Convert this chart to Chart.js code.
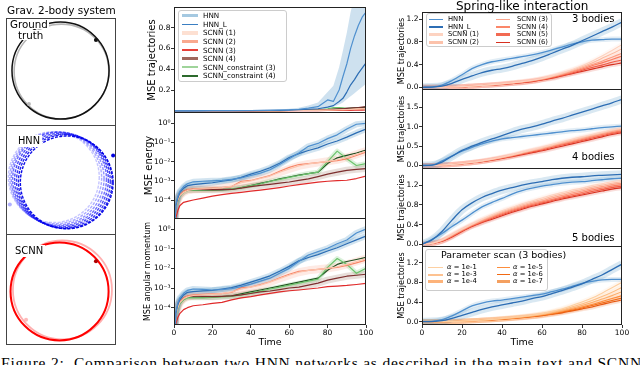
<!DOCTYPE html>
<html>
<head>
<meta charset="utf-8">
<script src="https://cdn.jsdelivr.net/npm/chart.js@4.4.1/dist/chart.umd.min.js"></script>
<style>
  html, body { margin: 0; padding: 0; background: #fff; }
  body { width: 640px; height: 365px; overflow: hidden; position: relative; font-family: "DejaVu Sans", sans-serif; }
  canvas { position: absolute; }
  .t { position: absolute; white-space: nowrap; line-height: 1; color: #000; }
  .box { position: absolute; border: 1px solid #ccc; border-radius: 3px; background: rgba(255,255,255,0.85); box-sizing: border-box; }
  .sw { position: absolute; }
</style>
</head>
<body>
<script>
// ---------- time grids / ticks ----------
const tTraj = [0, 10, 20, 30, 40, 50, 55, 60, 65, 70, 75, 80, 83, 86, 88, 90, 92, 94, 96, 98, 100];
const tLog = [0, 1, 2, 3, 5, 7, 10, 15, 20, 25, 30, 35, 40, 45, 50, 55, 60, 65, 70, 75, 80, 85, 90, 95, 100];
const tSpring = [0, 5, 10, 15, 20, 25, 30, 35, 40, 45, 50, 55, 60, 65, 70, 75, 80, 85, 90, 95, 100];
const timeTicks = [0, 20, 40, 60, 80, 100];
const trajTicks = [0.2, 0.4, 0.6, 0.8];
const logTicks = [1e-4, 1e-3, 1e-2, 1e-1, 1];
const s3Ticks = [0, 0.4, 0.8, 1.2];
const s4Ticks = [0, 0.5, 1.0, 1.5];
const s5Ticks = [0, 0.4, 0.8, 1.2];
const scanTicks = [0, 0.4, 0.8, 1.2];

// ---------- grav. 2-body orbits (centre x, centre y, radius) ----------
const gtRingX = [0.01, -0.01];
const gtRingY = [0.01, 0.03];
const gtRingR = [0.99, 1.015];
const gtBodyX = [0.73, -0.67];
const gtBodyY = [0.67, -0.67];
const hnnRingX = [-0.15, -0.11, -0.07, -0.03, 0.01, 0.05, 0.09, 0.12];
const hnnRingY = [0.06, 0.045, 0.03, 0.02, 0.0, -0.02, -0.035, -0.05];
const hnnRingR = [0.95, 0.96, 0.97, 0.98, 0.98, 0.98, 0.98, 0.97];
const hnnBodyX = [1.09, -1.07];
const hnnBodyY = [0.51, -0.51];
const scnnRingX = [0.03, -0.03];
const scnnRingY = [-0.01, -0.04];
const scnnRingR = [1.035, 1.025];
const scnnBodyX = [0.73, -0.73];
const scnnBodyY = [0.59, -0.63];

// ---------- middle column: MSE trajectories ----------
const trajHNN   = [0, 0, 0.001, 0.002, 0.003, 0.005, 0.008, 0.01, 0.015, 0.025, 0.04, 0.105, 0.09, 0.2, 0.33, 0.45, 0.6, 0.72, 0.82, 0.9, 0.95];
const trajHNNL  = [0, 0, 0.001, 0.001, 0.002, 0.004, 0.005, 0.007, 0.01, 0.015, 0.02, 0.035, 0.05, 0.09, 0.12, 0.18, 0.25, 0.3, 0.36, 0.41, 0.46];
const trajHNNHi = [0, 0, 0.002, 0.003, 0.005, 0.008, 0.012, 0.02, 0.03, 0.05, 0.08, 0.18, 0.24, 0.42, 0.58, 0.75, 0.95, 1.1, 1.2, 1.25, 1.3];
const trajHNNLo = [0, 0, 0, 0, 0.001, 0.002, 0.003, 0.004, 0.006, 0.01, 0.015, 0.03, 0.04, 0.06, 0.08, 0.11, 0.14, 0.17, 0.2, 0.23, 0.26];
const trajSCNN1 = [0, 0, 0, 0, 0.001, 0.001, 0.002, 0.002, 0.003, 0.004, 0.005, 0.007, 0.008, 0.01, 0.011, 0.012, 0.014, 0.016, 0.018, 0.02, 0.022];
const trajSCNN2 = [0, 0, 0, 0, 0.001, 0.001, 0.001, 0.002, 0.003, 0.004, 0.005, 0.006, 0.007, 0.009, 0.01, 0.011, 0.012, 0.014, 0.016, 0.018, 0.02];
const trajSCNN3 = [0, 0, 0, 0, 0, 0.001, 0.001, 0.001, 0.001, 0.002, 0.002, 0.003, 0.003, 0.004, 0.004, 0.005, 0.005, 0.006, 0.006, 0.007, 0.008];
const trajSCNN4 = [0, 0, 0, 0, 0.001, 0.001, 0.002, 0.003, 0.004, 0.006, 0.008, 0.012, 0.015, 0.018, 0.02, 0.023, 0.026, 0.029, 0.032, 0.036, 0.04];
const trajCon3  = [0, 0, 0, 0, 0.001, 0.001, 0.002, 0.003, 0.004, 0.006, 0.01, 0.02, 0.03, 0.032, 0.028, 0.022, 0.018, 0.015, 0.015, 0.017, 0.02];
const trajCon4  = [0, 0, 0, 0, 0.001, 0.001, 0.002, 0.003, 0.004, 0.006, 0.008, 0.012, 0.016, 0.02, 0.022, 0.024, 0.026, 0.028, 0.03, 0.032, 0.035];

// ---------- middle column: MSE energy (log10 values) ----------
const energyHNN   = [-6, -4.2, -3.8, -3.55, -3.3, -3.15, -3.05, -3.02, -3.0, -2.98, -2.92, -2.85, -2.72, -2.6, -2.42, -2.15, -1.85, -1.55, -1.2, -1.05, -0.8, -0.6, -0.3, -0.05, 0.0];
const energyHNNL  = [-6, -4.3, -3.9, -3.62, -3.38, -3.25, -3.2, -3.15, -3.1, -3.02, -2.95, -2.82, -2.65, -2.5, -2.32, -2.08, -1.78, -1.58, -1.42, -1.28, -1.08, -0.92, -0.72, -0.5, -0.3];
const energySCNN1 = [-6, -4.4, -4.0, -3.78, -3.6, -3.5, -3.45, -3.42, -3.4, -3.35, -3.28, -3.1, -3.0, -2.88, -2.75, -2.55, -2.38, -2.22, -2.12, -2.05, -1.98, -1.9, -1.78, -1.62, -1.45];
const energySCNN2 = [-6, -4.3, -3.95, -3.72, -3.55, -3.45, -3.42, -3.4, -3.38, -3.35, -3.3, -3.02, -2.98, -2.85, -2.72, -2.5, -2.3, -2.15, -2.1, -2.05, -2.0, -1.95, -1.85, -1.68, -1.5];
const energySCNN3 = [-6, -4.9, -4.55, -4.3, -4.12, -4.07, -4.0, -3.9, -3.8, -3.72, -3.65, -3.6, -3.54, -3.48, -3.42, -3.35, -3.27, -3.2, -3.13, -3.07, -3.02, -2.99, -2.97, -2.88, -2.75];
const energySCNN4 = [-6, -4.3, -4.0, -3.75, -3.55, -3.47, -3.45, -3.45, -3.46, -3.45, -3.45, -3.38, -3.3, -3.24, -3.18, -3.12, -3.06, -2.98, -2.9, -2.78, -2.65, -2.55, -2.45, -2.4, -2.36];
const energyCon3  = [-6, -4.4, -4.05, -3.8, -3.6, -3.5, -3.48, -3.47, -3.47, -3.45, -3.42, -3.35, -3.25, -3.15, -3.02, -2.92, -2.82, -2.72, -2.62, -2.55, -2.0, -1.45, -1.85, -2.2, -2.1];
const energyCon4  = [-6, -4.35, -4.0, -3.78, -3.58, -3.5, -3.48, -3.48, -3.48, -3.47, -3.45, -3.35, -3.25, -3.13, -3.02, -2.9, -2.8, -2.7, -2.62, -2.55, -2.1, -1.8, -1.67, -1.55, -1.4];

// ---------- middle column: MSE angular momentum (log10 values) ----------
const angHNN   = [-6, -4.2, -3.75, -3.5, -3.27, -3.12, -3.05, -3.07, -3.1, -3.08, -3.03, -2.93, -2.8, -2.65, -2.5, -2.25, -2.0, -1.65, -1.32, -1.15, -0.98, -0.75, -0.56, -0.2, 0.0];
const angHNNL  = [-6, -4.3, -3.85, -3.6, -3.35, -3.22, -3.18, -3.15, -3.12, -3.05, -2.98, -2.85, -2.7, -2.55, -2.38, -2.15, -1.9, -1.62, -1.45, -1.3, -1.12, -0.95, -0.75, -0.55, -0.36];
const angSCNN1 = [-6, -4.4, -4.0, -3.75, -3.55, -3.45, -3.38, -3.35, -3.32, -3.28, -3.2, -3.05, -2.95, -2.85, -2.7, -2.52, -2.35, -2.2, -2.1, -2.05, -2.0, -1.92, -1.8, -1.65, -1.5];
const angSCNN2 = [-6, -4.3, -3.92, -3.7, -3.5, -3.4, -3.35, -3.32, -3.3, -3.28, -3.22, -2.98, -2.95, -2.82, -2.68, -2.48, -2.3, -2.15, -2.1, -2.05, -2.0, -1.95, -1.85, -1.72, -1.58];
const angSCNN3 = [-6, -4.8, -4.5, -4.3, -4.1, -4.0, -3.9, -3.85, -3.78, -3.73, -3.6, -3.5, -3.44, -3.35, -3.27, -3.2, -3.14, -3.1, -3.05, -3.0, -2.93, -2.9, -2.87, -2.82, -2.76];
const angSCNN4 = [-6, -4.3, -3.95, -3.7, -3.5, -3.42, -3.4, -3.42, -3.44, -3.42, -3.4, -3.35, -3.28, -3.2, -3.15, -3.08, -3.0, -2.95, -2.85, -2.75, -2.6, -2.5, -2.4, -2.35, -2.3];
const angCon3  = [-6, -4.4, -4.05, -3.8, -3.6, -3.5, -3.5, -3.5, -3.48, -3.45, -3.42, -3.35, -3.25, -3.15, -3.05, -2.95, -2.85, -2.75, -2.65, -2.55, -1.95, -1.5, -1.8, -2.25, -2.0];
const angCon4  = [-6, -4.35, -4.0, -3.78, -3.58, -3.48, -3.46, -3.46, -3.45, -3.43, -3.4, -3.3, -3.2, -3.1, -3.0, -2.9, -2.8, -2.7, -2.6, -2.5, -2.1, -1.8, -1.65, -1.55, -1.44];

// ---------- right column: spring-like interaction ----------
const b3HNN   = [0, 0.005, 0.04, 0.12, 0.22, 0.33, 0.40, 0.45, 0.48, 0.51, 0.54, 0.57, 0.61, 0.66, 0.71, 0.76, 0.80, 0.83, 0.84, 0.85, 0.85];
const b3HNNL  = [0, 0.003, 0.02, 0.07, 0.14, 0.2, 0.26, 0.3, 0.33, 0.37, 0.42, 0.47, 0.53, 0.6, 0.67, 0.74, 0.82, 0.9, 0.98, 1.06, 1.15];
const b3SCNN1 = [0, 0, 0.002, 0.006, 0.012, 0.022, 0.033, 0.046, 0.062, 0.08, 0.1, 0.125, 0.155, 0.2, 0.25, 0.31, 0.38, 0.46, 0.55, 0.65, 0.75];
const b3SCNN2 = [0, 0, 0.002, 0.006, 0.012, 0.021, 0.032, 0.045, 0.06, 0.078, 0.097, 0.12, 0.15, 0.19, 0.24, 0.3, 0.36, 0.43, 0.51, 0.59, 0.68];
const b3SCNN3 = [0, 0, 0.002, 0.005, 0.011, 0.02, 0.031, 0.043, 0.058, 0.075, 0.093, 0.115, 0.145, 0.185, 0.23, 0.28, 0.34, 0.4, 0.46, 0.53, 0.6];
const b3SCNN4 = [0, 0, 0.002, 0.005, 0.01, 0.02, 0.03, 0.042, 0.057, 0.073, 0.09, 0.11, 0.14, 0.18, 0.22, 0.27, 0.32, 0.38, 0.43, 0.49, 0.55];
const b3SCNN5 = [0, 0, 0.002, 0.005, 0.01, 0.02, 0.03, 0.04, 0.055, 0.07, 0.085, 0.105, 0.135, 0.17, 0.21, 0.25, 0.3, 0.35, 0.39, 0.44, 0.48];
const b3SCNN6 = [0, 0, 0.002, 0.005, 0.01, 0.02, 0.03, 0.04, 0.05, 0.065, 0.08, 0.1, 0.13, 0.16, 0.2, 0.24, 0.28, 0.32, 0.36, 0.40, 0.43];

const b4HNN   = [0, 0.01, 0.12, 0.25, 0.37, 0.47, 0.56, 0.63, 0.69, 0.72, 0.75, 0.78, 0.81, 0.84, 0.87, 0.9, 0.92, 0.95, 0.98, 1.0, 1.02];
const b4HNNL  = [0, 0.01, 0.09, 0.24, 0.39, 0.5, 0.6, 0.69, 0.77, 0.86, 0.94, 1.0, 1.07, 1.15, 1.22, 1.3, 1.38, 1.46, 1.54, 1.62, 1.71];
const b4SCNN1 = [0, 0.002, 0.012, 0.03, 0.054, 0.083, 0.12, 0.165, 0.22, 0.275, 0.34, 0.4, 0.47, 0.54, 0.61, 0.68, 0.74, 0.8, 0.86, 0.92, 0.97];
const b4SCNN2 = [0, 0.002, 0.012, 0.029, 0.052, 0.08, 0.115, 0.16, 0.21, 0.265, 0.33, 0.39, 0.45, 0.52, 0.59, 0.65, 0.72, 0.78, 0.84, 0.9, 0.95];
const b4SCNN3 = [0, 0.002, 0.011, 0.028, 0.05, 0.078, 0.112, 0.155, 0.205, 0.26, 0.32, 0.38, 0.44, 0.5, 0.57, 0.63, 0.7, 0.76, 0.82, 0.88, 0.93];
const b4SCNN4 = [0, 0.002, 0.011, 0.027, 0.049, 0.076, 0.11, 0.15, 0.2, 0.25, 0.31, 0.37, 0.43, 0.49, 0.55, 0.61, 0.67, 0.74, 0.8, 0.85, 0.9];
const b4SCNN5 = [0, 0.002, 0.01, 0.026, 0.047, 0.073, 0.105, 0.145, 0.19, 0.24, 0.3, 0.35, 0.4, 0.47, 0.53, 0.59, 0.65, 0.71, 0.77, 0.83, 0.88];
const b4SCNN6 = [0, 0.002, 0.01, 0.025, 0.045, 0.07, 0.1, 0.14, 0.18, 0.23, 0.28, 0.33, 0.38, 0.44, 0.5, 0.56, 0.62, 0.68, 0.74, 0.8, 0.85];

const b5HNN   = [0, 0.1, 0.22, 0.36, 0.49, 0.63, 0.76, 0.85, 0.93, 1.02, 1.09, 1.14, 1.18, 1.21, 1.24, 1.26, 1.27, 1.29, 1.31, 1.33, 1.34];
const b5HNNL  = [0, 0.09, 0.26, 0.49, 0.70, 0.84, 0.95, 1.03, 1.10, 1.15, 1.2, 1.24, 1.27, 1.31, 1.34, 1.36, 1.37, 1.39, 1.40, 1.41, 1.42];
const b5SCNN1 = [0, 0.02, 0.085, 0.2, 0.31, 0.41, 0.51, 0.6, 0.68, 0.75, 0.82, 0.88, 0.94, 1.0, 1.05, 1.1, 1.14, 1.19, 1.23, 1.27, 1.3];
const b5SCNN2 = [0, 0.019, 0.08, 0.19, 0.3, 0.4, 0.5, 0.58, 0.66, 0.73, 0.8, 0.86, 0.91, 0.97, 1.02, 1.07, 1.11, 1.16, 1.2, 1.24, 1.27];
const b5SCNN3 = [0, 0.018, 0.075, 0.18, 0.29, 0.39, 0.48, 0.56, 0.64, 0.71, 0.77, 0.83, 0.88, 0.94, 0.99, 1.04, 1.08, 1.13, 1.17, 1.21, 1.24];
const b5SCNN4 = [0, 0.017, 0.07, 0.17, 0.28, 0.38, 0.47, 0.55, 0.62, 0.69, 0.75, 0.81, 0.86, 0.91, 0.96, 1.01, 1.05, 1.1, 1.14, 1.18, 1.21];
const b5SCNN5 = [0, 0.016, 0.065, 0.16, 0.27, 0.37, 0.45, 0.53, 0.6, 0.67, 0.73, 0.79, 0.84, 0.89, 0.94, 0.98, 1.02, 1.07, 1.11, 1.15, 1.18];
const b5SCNN6 = [0, 0.015, 0.06, 0.15, 0.26, 0.36, 0.44, 0.51, 0.58, 0.65, 0.71, 0.77, 0.82, 0.87, 0.92, 0.96, 1.0, 1.04, 1.08, 1.12, 1.15];

const scanHNN  = [0, 0.005, 0.04, 0.12, 0.22, 0.32, 0.38, 0.42, 0.44, 0.47, 0.5, 0.53, 0.56, 0.61, 0.66, 0.72, 0.78, 0.82, 0.85, 0.86, 0.86];
const scanHNNL = [0, 0.003, 0.02, 0.07, 0.13, 0.19, 0.25, 0.3, 0.34, 0.38, 0.42, 0.47, 0.51, 0.57, 0.63, 0.7, 0.77, 0.86, 0.95, 1.06, 1.17];
const scanA1 = [0, 0, 0.002, 0.006, 0.012, 0.022, 0.034, 0.048, 0.065, 0.085, 0.107, 0.132, 0.165, 0.21, 0.26, 0.33, 0.4, 0.48, 0.58, 0.69, 0.8];
const scanA3 = [0, 0, 0.002, 0.006, 0.012, 0.021, 0.032, 0.046, 0.062, 0.08, 0.1, 0.125, 0.155, 0.195, 0.24, 0.3, 0.36, 0.43, 0.51, 0.6, 0.7];
const scanA4 = [0, 0, 0.002, 0.005, 0.011, 0.02, 0.031, 0.044, 0.059, 0.076, 0.095, 0.118, 0.146, 0.183, 0.225, 0.275, 0.33, 0.39, 0.46, 0.53, 0.61];
const scanA5 = [0, 0, 0.002, 0.005, 0.01, 0.019, 0.03, 0.042, 0.056, 0.072, 0.09, 0.111, 0.137, 0.17, 0.21, 0.255, 0.3, 0.35, 0.41, 0.47, 0.53];
const scanA6 = [0, 0, 0.002, 0.005, 0.01, 0.018, 0.029, 0.04, 0.053, 0.068, 0.085, 0.105, 0.13, 0.16, 0.195, 0.235, 0.28, 0.33, 0.38, 0.43, 0.48];
const scanA7 = [0, 0, 0.002, 0.005, 0.01, 0.018, 0.028, 0.038, 0.05, 0.064, 0.08, 0.1, 0.123, 0.15, 0.18, 0.22, 0.26, 0.3, 0.35, 0.4, 0.44];

const midNames = ['HNN', 'HNN_L', 'SCNN (1)', 'SCNN (2)', 'SCNN (3)', 'SCNN (4)', 'SCNN_constraint (3)', 'SCNN_constraint (4)'];
const springNames = ['HNN', 'HNN_L', 'SCNN (1)', 'SCNN (2)', 'SCNN (3)', 'SCNN (4)', 'SCNN (5)', 'SCNN (6)'];
const scanNames = ['1e-1', '1e-3', '1e-4', '1e-5', '1e-6', '1e-7'];

// ---------- styles ----------
const PAD = {left: 6, top: 6, right: 10, bottom: 6};
const BLUE_L = '#4f90cf';
const BLUE_D = '#2c6db4';
const midColors = [BLUE_L, BLUE_D, '#fcc4ad', '#f7876a', '#e02a2a', '#7d2e2e', '#6cc46c', '#1f4d1f'];
const redColors = ['#fdd3c1', '#fcbba1', '#fc9e83', '#fb7d61', '#f05a43', '#d7301f'];
const orangeColors = ['#fdd0a2', '#fdbe85', '#fdae6b', '#fd8d3c', '#f16913', '#e6550d'];

Chart.defaults.font.family = '"DejaVu Sans", sans-serif';
Chart.defaults.color = '#000';
Chart.defaults.animation = false;
Chart.defaults.responsive = false;
Chart.defaults.events = [];
Chart.defaults.plugins.legend.display = false;
Chart.defaults.plugins.tooltip.enabled = false;

const frame = {
  id: 'frame',
  afterDatasetsDraw(chart, args, opts) {
    const a = chart.chartArea, ctx = chart.ctx;
    ctx.save();
    ctx.strokeStyle = opts.color || '#222';
    ctx.lineWidth = 1;
    ctx.strokeRect(Math.round(a.left) + 0.5, Math.round(a.top) + 0.5,
      Math.round(a.right - a.left) - 1, Math.round(a.bottom - a.top) - 1);
    ctx.restore();
  }
};

const dash = {
  id: 'dash',
  beforeDatasetDraw(chart, args) {
    const d = chart.data.datasets[args.index].ringDash;
    if (d) chart.ctx.setLineDash(d);
  },
  afterDatasetDraw(chart) { chart.ctx.setLineDash([]); }
};

function fade(hex, a) {
  const n = parseInt(hex.slice(1), 16);
  return 'rgba(' + (n >> 16) + ',' + ((n >> 8) & 255) + ',' + (n & 255) + ',' + a + ')';
}

const SUP = {'-': '\u207b', '0': '\u2070', '1': '\u00b9', '2': '\u00b2', '3': '\u00b3', '4': '\u2074'};
const logLabel = v => '10' + String(Math.round(Math.log10(v))).split('').map(c => SUP[c]).join('');

function makeCanvas(area, axisW, axisH) {
  const c = document.createElement('canvas');
  const left = axisW || PAD.left;
  c.width = area.w + left + PAD.right;
  c.height = area.h + PAD.top + (axisH || PAD.bottom);
  c.style.left = (area.l - left) + 'px';
  c.style.top = (area.t - PAD.top) + 'px';
  document.body.appendChild(c);
  return c;
}

const pts = (ts, vs) => ts.map((t, i) => ({x: t, y: vs[i]}));
const pow = es => es.map(e => Math.pow(10, e));

function line(ts, vs, color, width, extra) {
  return Object.assign({
    data: pts(ts, vs), borderColor: color, borderWidth: width, pointRadius: 0,
    fill: false, borderJoinStyle: 'round', order: 1
  }, extra || {});
}

function xTime(show, axisH) {
  return {
    type: 'linear', min: 0, max: 100, display: show,
    afterFit: s => { s.height = axisH; },
    afterBuildTicks: s => { s.ticks = timeTicks.map(v => ({value: v})); },
    grid: {drawOnChartArea: false, tickLength: 3, color: '#000', lineWidth: 0.8},
    border: {display: false},
    ticks: {font: {size: 7.5}, padding: 1, maxRotation: 0, autoSkip: false},
    title: {display: show, text: 'Time', font: {size: 9.5}, padding: {top: 0, bottom: 1}}
  };
}

function yAxis(type, min, max, ticks, fmt, title, size, pad, axisW) {
  return {
    type, min, max,
    afterFit: s => { s.width = axisW; },
    afterBuildTicks: s => { s.ticks = ticks.map(v => ({value: v})); },
    grid: {drawOnChartArea: false, tickLength: 3, color: '#000', lineWidth: 0.8},
    border: {display: false},
    ticks: {font: {size: 7.5}, padding: 0.5, autoSkip: false, callback: fmt},
    title: {display: true, text: title, font: {size}, padding: {top: pad, bottom: 0}}
  };
}

function seriesChart(area, axisW, axisH, yScale, datasets) {
  return new Chart(makeCanvas(area, axisW, axisH), {
    type: 'line',
    data: {datasets},
    options: {
      devicePixelRatio: 1,
      layout: {padding: {left: 0, top: PAD.top, right: PAD.right, bottom: axisH ? 0 : PAD.bottom}},
      scales: {x: xTime(axisH > 0, axisH), y: yScale},
      plugins: {frame: {color: '#222'}}
    },
    plugins: [frame]
  });
}

const ringRadius = c => {
  if (!c.raw) return 0;
  const s = c.chart.scales.x;
  return Math.abs(s.getPixelForValue(c.raw.r) - s.getPixelForValue(0));
};

function orbitPanel(area, ringX, ringY, ringR, ringColors, ringWidths, ringDash, bodyX, bodyY, bodyColors) {
  const ORB = 1.15, yr = ORB * area.h / area.w;
  new Chart(makeCanvas(area, 0, 0), {
    type: 'scatter',
    data: {datasets: [
      {data: bodyX.map((x, i) => ({x, y: bodyY[i]})), pointRadius: 2, pointBorderWidth: 0,
       pointBackgroundColor: bodyColors, order: 0, clip: false},
      {data: ringX.map((x, i) => ({x, y: ringY[i], r: ringR[i]})), pointRadius: ringRadius,
       pointBackgroundColor: 'rgba(0,0,0,0)', pointBorderColor: ringColors, pointBorderWidth: ringWidths,
       ringDash, order: 1, clip: false}
    ]},
    options: {
      devicePixelRatio: 1,
      layout: {padding: PAD},
      scales: {x: {display: false, min: -ORB, max: ORB}, y: {display: false, min: -yr, max: yr}},
      plugins: {frame: {color: '#444'}}
    },
    plugins: [frame, dash]
  });
}

// ---------- left column ----------
orbitPanel({l: 6, t: 18, w: 110, h: 108}, gtRingX, gtRingY, gtRingR, ['#b5b5b5', '#111'], [1.6, 1.5], null,
  gtBodyX, gtBodyY, ['#111', '#bbb']);
orbitPanel({l: 6, t: 125, w: 110, h: 110}, hnnRingX, hnnRingY, hnnRingR,
  ['rgba(110,110,255,0.4)', 'rgba(90,90,255,0.5)', 'rgba(70,70,255,0.6)', 'rgba(50,50,250,0.7)',
   'rgba(30,30,245,0.8)', 'rgba(20,20,240,0.85)', 'rgba(10,10,235,0.9)', 'rgba(0,0,230,0.95)'],
  1.4, [3, 1.3], hnnBodyX, hnnBodyY, ['#0000e0', 'rgba(80,80,255,0.45)']);
orbitPanel({l: 6, t: 234, w: 110, h: 111}, scnnRingX, scnnRingY, scnnRingR, ['rgba(255,110,110,0.55)', '#ff0000'], [1.8, 2], null,
  scnnBodyX, scnnBodyY, ['#b00000', 'rgba(255,120,120,0.5)']);

// ---------- middle column ----------
const MID_W = 34;
seriesChart({l: 174, t: 7, w: 192, h: 106}, MID_W, 0,
  yAxis('linear', -0.021, 0.998, trajTicks, v => v.toFixed(1), 'MSE trajectories', 10, 6, MID_W), [
    line(tTraj, trajHNN, midColors[0], 1.2, {order: 0}),
    line(tTraj, trajHNNL, midColors[1], 1.2, {order: 0}),
    line(tTraj, trajSCNN1, midColors[2], 1.2),
    line(tTraj, trajSCNN2, midColors[3], 1.2),
    line(tTraj, trajSCNN3, midColors[4], 1.2),
    line(tTraj, trajSCNN4, midColors[5], 1.2),
    line(tTraj, trajCon3, midColors[6], 1.2),
    line(tTraj, trajCon4, midColors[7], 1.2),
    line(tTraj, trajHNNHi, 'rgba(0,0,0,0)', 0, {backgroundColor: 'rgba(31,119,180,0.22)', fill: '+1', order: 3}),
    line(tTraj, trajHNNLo, 'rgba(0,0,0,0)', 0, {order: 3})
  ]);

function logSets(hnn, hnnL, s1, s2, s3, s4, c3, c4) {
  const series = [hnn, hnnL, s1, s2, s3, s4, c3, c4].map(pow);
  const ds = series.map((v, i) => line(tLog, v, midColors[i], 1.2, {order: i < 2 ? 0 : 1}));
  ds.push(line(tLog, series[0], 'rgba(31,119,180,0.2)', 6, {order: 3}));
  ds.push(line(tLog, series[1], 'rgba(31,119,180,0.2)', 6, {order: 3}));
  ds.push(line(tLog, series[2], 'rgba(252,150,120,0.2)', 8, {order: 3}));
  ds.push(line(tLog, series[5], 'rgba(150,110,90,0.22)', 7, {order: 3}));
  ds.push(line(tLog, series[6], 'rgba(120,200,120,0.25)', 5, {order: 3}));
  return ds;
}

seriesChart({l: 174, t: 112, w: 192, h: 107}, MID_W, 0,
  yAxis('logarithmic', Math.pow(10, -4.99), Math.pow(10, 0.59), logTicks, logLabel, 'MSE energy', 10, 3, MID_W),
  logSets(energyHNN, energyHNNL, energySCNN1, energySCNN2, energySCNN3, energySCNN4, energyCon3, energyCon4));

seriesChart({l: 174, t: 218, w: 192, h: 107}, MID_W, 24,
  yAxis('logarithmic', Math.pow(10, -4.88), Math.pow(10, 0.56), logTicks, logLabel, 'MSE angular momentum', 8, 3, MID_W),
  logSets(angHNN, angHNNL, angSCNN1, angSCNN2, angSCNN3, angSCNN4, angCon3, angCon4));

// ---------- right column ----------
const R_W = 30;
function springSets(hnn, hnnL, reds, colors) {
  const mono = {cubicInterpolationMode: 'monotone'};
  const ds = [];
  ds.push(line(tSpring, hnnL, BLUE_D, 1.3, Object.assign({order: 0}, mono)));
  ds.push(line(tSpring, hnn, BLUE_L, 1.3, Object.assign({order: 0}, mono)));
  reds.forEach((v, i) => ds.push(line(tSpring, v, colors[i], 1.1, Object.assign({order: 1}, mono))));
  ds.push(line(tSpring, hnnL, 'rgba(31,119,180,0.17)', 8, Object.assign({order: 2}, mono)));
  ds.push(line(tSpring, hnn, 'rgba(31,119,180,0.13)', 5, Object.assign({order: 2}, mono)));
  reds.forEach((v, i) => ds.push(line(tSpring, v, fade(colors[i], 0.16), 5, Object.assign({order: 3}, mono))));
  return ds;
}
const fmt1 = v => v.toFixed(1);

seriesChart({l: 422, t: 12, w: 200, h: 78}, R_W, 0,
  yAxis('linear', -0.048, 1.327, s3Ticks, fmt1, 'MSE trajectories', 8.2, 4.6, R_W),
  springSets(b3HNN, b3HNNL, [b3SCNN1, b3SCNN2, b3SCNN3, b3SCNN4, b3SCNN5, b3SCNN6], redColors));
seriesChart({l: 422, t: 89, w: 200, h: 80}, R_W, 0,
  yAxis('linear', -0.09, 1.977, s4Ticks, fmt1, 'MSE trajectories', 8.2, 4.6, R_W),
  springSets(b4HNN, b4HNNL, [b4SCNN1, b4SCNN2, b4SCNN3, b4SCNN4, b4SCNN5, b4SCNN6], redColors));
seriesChart({l: 422, t: 168, w: 200, h: 79}, R_W, 0,
  yAxis('linear', -0.055, 1.548, s5Ticks, fmt1, 'MSE trajectories', 8.2, 4.6, R_W),
  springSets(b5HNN, b5HNNL, [b5SCNN1, b5SCNN2, b5SCNN3, b5SCNN4, b5SCNN5, b5SCNN6], redColors));
seriesChart({l: 422, t: 246, w: 200, h: 79}, R_W, 24,
  yAxis('linear', -0.067, 1.539, scanTicks, fmt1, 'MSE trajectories', 8.2, 4.6, R_W),
  springSets(scanHNN, scanHNNL, [scanA1, scanA3, scanA4, scanA5, scanA6, scanA7], orangeColors));

// ---------- text ----------
function label(text, left, baseline, size, extra) {
  const d = document.createElement('div');
  d.className = 't';
  d.style.left = left + 'px';
  d.style.top = (baseline - 0.846 * size) + 'px';
  d.style.fontSize = size + 'px';
  d.textContent = text;
  if (extra) Object.assign(d.style, extra);
  document.body.appendChild(d);
  return d;
}
function legendBox(l, t, w, h) {
  const d = document.createElement('div');
  d.className = 'box';
  Object.assign(d.style, {left: l + 'px', top: t + 'px', width: w + 'px', height: h + 'px'});
  document.body.appendChild(d);
}
function legendRow(x0, x1, tx, cy, color, width, html, size) {
  const s = document.createElement('div');
  s.className = 'sw';
  Object.assign(s.style, {left: x0 + 'px', width: (x1 - x0) + 'px', top: (cy - width / 2) + 'px',
    height: width + 'px', background: color});
  document.body.appendChild(s);
  const t = document.createElement('div');
  t.className = 't';
  Object.assign(t.style, {left: tx + 'px', top: (cy - size / 2) + 'px', fontSize: size + 'px'});
  t.innerHTML = html;
  document.body.appendChild(t);
}

label('Grav. 2-body system', 7, 13.5, 10.5);
label('Ground', 9, 27.5, 10.3, {background: '#fff', padding: '0 1px'});
label('truth', 16, 38.5, 10.3, {background: '#fff', padding: '0 2px'});
label('HNN', 16, 143, 9.8, {background: '#fff', padding: '1px 2px'});
label('SCNN', 13, 253, 10, {background: '#fff', padding: '1px 2px'});
label('Spring-like interaction', 456, 10.5, 12);
label('3 bodies', 572, 22.7, 10);
label('4 bodies', 572, 160.7, 10);
label('5 bodies', 572, 241, 10);

// middle legend
legendBox(178, 10, 109, 72);
const midSw = [
  ['rgba(31,119,180,0.4)', 3.5], ['#3a7ec2', 1.5], ['#fde0d2', 3.5], ['#f9a98f', 3],
  ['#e8413a', 1.5], ['#a0685e', 3], ['#9fd49a', 2], ['#2c6a2c', 1.5]];
midNames.forEach((n, i) => legendRow(182, 198, 203, 15.7 + 8.6 * i, midSw[i][0], midSw[i][1], n, 7.2));

// spring legend
legendBox(426, 13, 126, 34);
const springSw = [
  [BLUE_L, 1.5], [BLUE_D, 1.5], ['#fdd3c1', 2.5], ['#fcc2ab', 2.5],
  ['#fca58c', 1.5], ['#fb8769', 1.5], ['#f26a52', 3], ['#d7301f', 1.5]];
springNames.forEach((n, i) => {
  const col = i < 4 ? 0 : 1, row = i % 4;
  legendRow(col ? 496 : 429, col ? 510 : 443, col ? 517 : 448, 19.3 + 7.65 * row, springSw[i][0], springSw[i][1], n, 6.8);
});

// parameter scan legend
legendBox(425, 249, 123, 42);
label('Parameter scan (3 bodies)', 441, 258.5, 9.5);
const scanSw = [['#fdd0a2', 1.5], ['#fdc291', 2], ['#fdb37a', 3], ['#fd8d3c', 1.5], ['#f16913', 1.5], ['#f4a060', 3]];
scanNames.forEach((n, i) => {
  const col = i < 3 ? 0 : 1, row = i % 3;
  legendRow(col ? 497 : 428, col ? 510 : 443, col ? 513 : 447, 267.3 + 7.2 * row, scanSw[i][0], scanSw[i][1],
    '<i>\u03b1</i> = ' + n, 6.8);
});

// caption (cut by the bottom edge)
label('Figure 2:\u00a0 Comparison between two HNN networks as described in the main text and SCNN', 1, 368, 15.5,
  {fontFamily: '"Liberation Serif", serif', letterSpacing: '0.8px'});
</script>
</body>
</html>
